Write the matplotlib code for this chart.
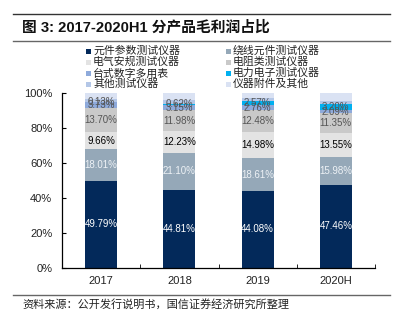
import matplotlib
matplotlib.use("Agg")
import matplotlib.pyplot as plt
from matplotlib.patches import Rectangle
from matplotlib.lines import Line2D
import numpy as np

plt.rcParams['font.family'] = ['Liberation Sans', 'Noto Sans CJK SC', 'DejaVu Sans']

years = ["2017", "2018", "2019", "2020H"]
series_names = ["元件参数测试仪器", "绕线元件测试仪器", "电气安规测试仪器", "电阻类测试仪器",
                "台式数字多用表", "电力电子测试仪器", "其他测试仪器", "仪器附件及其他"]
yuanjian = [49.79, 44.81, 44.08, 47.46]
raoxian = [18.01, 21.10, 18.61, 15.98]
dianqi = [9.66, 12.23, 14.98, 13.55]
dianzu = [13.70, 11.98, 12.48, 11.35]
taishi = [3.73, 3.15, 2.76, 2.09]
dianli = [0.13, 0.62, 2.57, 3.20]
qita = [1.50, 2.00, 1.50, 2.00]
fujian = [3.48, 4.11, 3.02, 4.37]
yticks = [0, 20, 40, 60, 80, 100]

series = [yuanjian, raoxian, dianqi, dianzu, taishi, dianli, qita, fujian]
colors = ["#03295a", "#95a8b8", "#e3e3e3", "#c9c9c9", "#8eaadb", "#00b0f0", "#b4c7e7", "#dae2f3"]
label_colors = ["white", "#eef2f6", "black", "#555555", "#555555", "#555555", None, None]

W, H = 399, 321
fig = plt.figure(figsize=(W / 100, H / 100), dpi=100)

def fx(px):
    return px / W

def fy(py):
    return 1 - py / H

ax = fig.add_axes([fx(62), fy(268), fx(375) - fx(62), fy(93) - fy(268)])
x = np.arange(len(years))
bottom = np.zeros(len(years))
for vals, c, lc in zip(series, colors, label_colors):
    v = np.array(vals)
    ax.bar(x, v, bottom=bottom, width=0.41, color=c, zorder=2)
    if lc is not None:
        for xi, b, vi in zip(x, bottom, v):
            ax.text(xi, b + vi / 2, f"{vi:.2f}%", ha="center", va="center",
                    fontsize=7, color=lc, zorder=3)
    bottom += v

ax.set_xlim(-0.5, len(years) - 0.5)
ax.set_ylim(0, 100)
ax.set_yticks(yticks)
ax.set_yticklabels([f"{t}%" for t in yticks], fontsize=8, color="#222222")
ax.set_xticks(x)
ax.set_xticklabels(years, fontsize=8, color="#222222")
ax.tick_params(axis="x", which="major", length=0, pad=6)
ax.set_xticks(np.arange(-0.5, len(years)), minor=True)
ax.tick_params(axis="x", which="minor", direction="in", length=3, color="black")
ax.tick_params(axis="y", direction="in", length=3, pad=7, color="black")
for s in ["top", "right"]:
    ax.spines[s].set_visible(False)
for s in ["left", "bottom"]:
    ax.spines[s].set_color("black")
    ax.spines[s].set_linewidth(0.9)

# header and footer rules
fig.add_artist(Line2D([fx(13), fx(390)], [fy(14), fy(14)], color="#333333", lw=1.0))
fig.add_artist(Line2D([fx(13), fx(390)], [fy(41), fy(41)], color="#666666", lw=1.0))
fig.add_artist(Line2D([fx(13), fx(390)], [fy(295), fy(295)], color="#666666", lw=1.0))

fig.text(fx(22), fy(27), "图 3: 2017-2020H1 分产品毛利润占比", fontsize=10.6, fontweight="bold",
         ha="left", va="center", color="#111111",
         family=["Liberation Sans", "Noto Sans CJK SC"])
fig.text(fx(22), fy(304), "资料来源：公开发行说明书，国信证券经济研究所整理", fontsize=8,
         ha="left", va="center", color="#222222", family=["Noto Sans CJK SC"])

# legend (two columns)
col_x = [88, 228]
row_y = [51, 62, 73, 84]
for i, (name, c) in enumerate(zip(series_names, colors)):
    cx = col_x[i % 2]
    ry = row_y[i // 2]
    fig.add_artist(Rectangle((fx(cx - 2.5), fy(ry + 2.5)), fx(5), fy(0) - fy(5),
                             facecolor=c, edgecolor="none", transform=fig.transFigure))
    fig.text(fx(cx + 5), fy(ry), name, fontsize=7.8, ha="left", va="center",
             color="#222222", family=["Noto Sans CJK SC"])

fig.savefig("out.png", dpi=100)
